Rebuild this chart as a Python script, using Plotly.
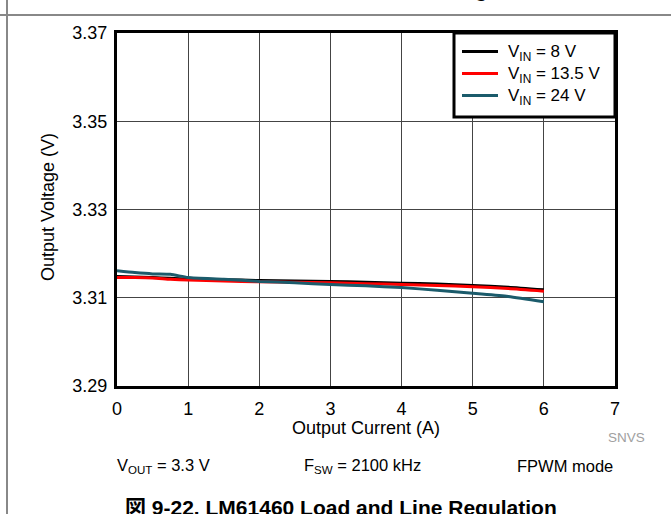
import plotly.graph_objects as go

current = [0, 0.25, 0.5, 0.75, 1, 1.5, 2, 2.5, 3, 3.5, 4, 4.5, 5, 5.5, 6]
v_8 = [3.3148, 3.3147, 3.3146, 3.3144, 3.3142, 3.3141, 3.3139, 3.3138, 3.3137, 3.3135, 3.3133, 3.3131, 3.3128, 3.3124, 3.3118]
v_13_5 = [3.3146, 3.3146, 3.3145, 3.3142, 3.3140, 3.3138, 3.3136, 3.3135, 3.3134, 3.3132, 3.3130, 3.3128, 3.3125, 3.3121, 3.3115]
v_24 = [3.3161, 3.3157, 3.3154, 3.3153, 3.3146, 3.3142, 3.3137, 3.3134, 3.3130, 3.3127, 3.3123, 3.3117, 3.3110, 3.3103, 3.3091]

series_names = ["V<sub>IN</sub> = 8 V", "V<sub>IN</sub> = 13.5 V", "V<sub>IN</sub> = 24 V"]
series_colors = ["#000000", "#ff0000", "#1b5b6b"]

x_ticks = [0, 1, 2, 3, 4, 5, 6, 7]
y_ticks = [3.29, 3.31, 3.33, 3.35, 3.37]
y_tick_labels = ["3.29", "3.31", "3.33", "3.35", "3.37"]

caption = "図 9-22. LM61460 Load and Line Regulation"
top_caption = "図 9-21. LM61460 Load and Line Regulation"

FONT = "Liberation Sans, Arial, Noto Sans CJK JP, sans-serif"

fig = go.Figure()
for ys, name, col in zip([v_8, v_13_5, v_24], series_names, series_colors):
    fig.add_trace(go.Scatter(x=current, y=ys, mode="lines", name=name, showlegend=False,
                             line=dict(color=col, width=3, shape="spline", smoothing=0.6)))

W, H = 671, 514
L, R, T, B = 117, 56, 33, 128
pw = W - L - R
ph = H - T - B


def px(x):
    return (x - L) / pw


def py(y):
    return (H - B - y) / ph


fig.update_layout(
    width=W, height=H,
    margin=dict(l=L, r=R, t=T, b=B, pad=0, autoexpand=False),
    paper_bgcolor="white", plot_bgcolor="white",
    font=dict(family=FONT, size=18, color="#000"),
    showlegend=False,
    xaxis=dict(range=[0, 7], tickvals=x_ticks, ticks="", showgrid=True,
               gridcolor="#444", gridwidth=1, zeroline=False,
               showline=True, linecolor="#000", linewidth=3, mirror=True,
               tickfont=dict(size=18), fixedrange=True, automargin=False,
               ticklabelstandoff=4),
    yaxis=dict(range=[3.29, 3.37], tickvals=y_ticks, ticktext=y_tick_labels,
               ticks="", showgrid=True, gridcolor="#444", gridwidth=1,
               zeroline=False, showline=True, linecolor="#000", linewidth=3,
               mirror=True, tickfont=dict(size=18), fixedrange=True,
               automargin=False, ticklabelstandoff=3),
)

ann = [
    dict(text="Output Current (A)", x=px(366), y=py(428), size=18, color="#000"),
    dict(text="Output Voltage (V)", x=px(48), y=py(207), size=18, color="#000", angle=-90),
    dict(text="SNVS", x=px(626), y=py(437), size=13.5, color="#a0a0a0"),
    dict(text="V<sub>OUT</sub> = 3.3 V", x=px(163), y=py(466), size=16.5, color="#000"),
    dict(text="F<sub>SW</sub> = 2100 kHz", x=px(362), y=py(466), size=16.5, color="#000"),
    dict(text="FPWM mode", x=px(565), y=py(466), size=16.5, color="#000"),
    dict(text="<b>" + caption + "</b>", x=px(341), y=py(507), size=21, color="#000"),
    dict(text="<b>" + top_caption + "</b>", x=px(341), y=py(-10), size=21, color="#000"),
]
for a in ann:
    fig.add_annotation(text=a["text"], x=a["x"], y=a["y"], xref="paper", yref="paper",
                       xanchor="center", yanchor="middle", showarrow=False,
                       textangle=a.get("angle", 0),
                       font=dict(size=a["size"], color=a["color"], family=FONT))

# legend (box, key lines, labels)
LEG_FONT = 17
line_gap = LEG_FONT * 1.3
mid = 73.5
legend_rows = [mid - line_gap, mid, mid + line_gap]
fig.add_shape(type="rect", xref="paper", yref="paper", x0=px(454), x1=px(615), y0=py(117), y1=py(33),
              line=dict(color="#000", width=3), fillcolor="white", layer="above")
for col, ry in zip(series_colors, legend_rows):
    fig.add_shape(type="line", xref="paper", yref="paper", x0=px(462), x1=px(498), y0=py(ry), y1=py(ry),
                  line=dict(color=col, width=3), layer="above")
fig.add_annotation(text="<br>".join(series_names), x=px(506), y=py(mid + 1), xref="paper", yref="paper",
                   xanchor="left", yanchor="middle", align="left", showarrow=False,
                   font=dict(size=LEG_FONT, color="#000", family=FONT))

fig.add_shape(type="line", xref="paper", yref="paper", x0=px(7), x1=px(7), y0=py(520), y1=py(-5),
              line=dict(color="#888", width=2))
fig.add_shape(type="line", xref="paper", yref="paper", x0=px(-5), x1=px(680), y0=py(15), y1=py(15),
              line=dict(color="#888", width=2))

fig.write_html("out.html", config={"displayModeBar": False},
               post_script="document.body.style.margin='0';document.body.style.overflow='hidden';")
